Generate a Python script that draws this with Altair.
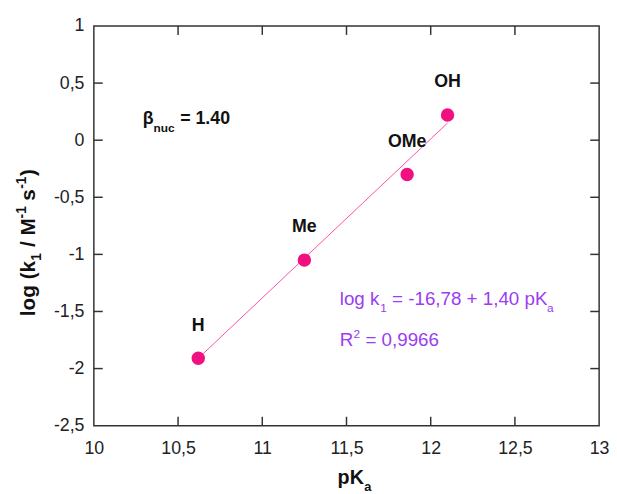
import altair as alt
import pandas as pd

# ---- data ----
substituents = ["H", "Me", "OMe", "OH"]
pka = [10.62, 11.25, 11.86, 12.10]
logk1 = [-1.91, -1.05, -0.30, 0.22]

fit_pka = [10.62, 12.10]
fit_logk = [-1.91, 0.15]

x_label_values = [10, 10.5, 11, 11.5, 12, 12.5, 13]
y_label_values = [-2.5, -2, -1.5, -1, -0.5, 0, 0.5, 1]
x_inner_ticks = [10.5, 11, 11.5, 12, 12.5]
y_inner_ticks = [-2, -1.5, -1, -0.5, 0, 0.5]

# ---- style ----
W, H = 512, 405
FONT = "Liberation Sans"
PINK = "#f0107f"
LINE = "#ff4fa8"
PURPLE = "#9b3cf0"
INK = "#111111"
FRAME = "#333333"
TICK_LEN = 9

xs = alt.Scale(domain=[10, 13], nice=False, zero=False)
ys = alt.Scale(domain=[-2.5, 1], nice=False, zero=False)
comma = "replace(toString(datum.value), '.', ',')"

xaxis = alt.Axis(values=x_label_values, labelExpr=comma, ticks=False, domain=False,
                 grid=False, title=None, labelFontSize=18, labelFont=FONT,
                 labelColor="#222222", labelPadding=14, labelFlush=False,
                 labelOverlap=False, labelBound=False)
yaxis = alt.Axis(values=y_label_values, labelExpr=comma, ticks=False, domain=False,
                 grid=False, title=None, labelFontSize=18, labelFont=FONT,
                 labelColor="#222222", labelPadding=10, labelFlush=False,
                 labelOverlap=False, labelBound=False)


def X(field=None, datum=None):
    if datum is not None:
        return alt.X(datum=datum, scale=xs, axis=xaxis)
    return alt.X(field, type="quantitative", scale=xs, axis=xaxis)


def Y(field=None, datum=None):
    if datum is not None:
        return alt.Y(datum=datum, scale=ys, axis=yaxis)
    return alt.Y(field, type="quantitative", scale=ys, axis=yaxis)


pts_df = pd.DataFrame({"pKa": pka, "logk": logk1, "label": substituents})
fit_df = pd.DataFrame({"pKa": fit_pka, "logk": fit_logk})
xt_df = pd.DataFrame({"v": x_inner_ticks})
yt_df = pd.DataFrame({"v": y_inner_ticks})
one_row = alt.Data(values=[{"a": 1}])

points = alt.Chart(pts_df).mark_point(filled=True, shape="circle", size=185,
                                       color=PINK, opacity=1).encode(
    x=X("pKa"), y=Y("logk"))

fit = alt.Chart(fit_df).mark_line(color=LINE, strokeWidth=1).encode(
    x=X("pKa"), y=Y("logk"))

labels = alt.Chart(pts_df).mark_text(dy=-33, fontSize=18, fontWeight="bold",
                                      font=FONT, color=INK, baseline="middle").encode(
    x=X("pKa"), y=Y("logk"), text="label:N")

tick_style = dict(color=FRAME, strokeWidth=1.5)
ticks_bottom = alt.Chart(xt_df).mark_rule(**tick_style).encode(
    x=X("v"), y=alt.value(H), y2=alt.value(H - TICK_LEN))
ticks_top = alt.Chart(xt_df).mark_rule(**tick_style).encode(
    x=X("v"), y=alt.value(0), y2=alt.value(TICK_LEN))
ticks_left = alt.Chart(yt_df).mark_rule(**tick_style).encode(
    y=Y("v"), x=alt.value(0), x2=alt.value(TICK_LEN))
ticks_right = alt.Chart(yt_df).mark_rule(**tick_style).encode(
    y=Y("v"), x=alt.value(W), x2=alt.value(W - TICK_LEN))


def seg(text, x, y, dx=0, dy=0, size=18, color=INK, bold=False, angle=0):
    props = dict(text=text, dx=dx, dy=dy, fontSize=size, font=FONT, color=color,
                 align="left", baseline="alphabetic",
                 fontWeight="bold" if bold else "normal")
    if angle:
        props["angle"] = angle
    return alt.Chart(one_row).mark_text(**props).encode(x=x, y=y)


# beta annotation (data coordinates)
bx, by = X(datum=10.29), Y(datum=0.14)
beta = [
    seg("β", bx, by, 0, 0, 18, INK, True),
    seg("nuc", bx, by, 11, 8, 12, INK, True),
    seg("= 1.40", bx, by, 38, 0, 18, INK, True),
]

# regression equation
ex, ey = X(datum=11.46), Y(datum=-1.44)
rx, ry = X(datum=11.46), Y(datum=-1.80)
equation = [
    seg("log k", ex, ey, 0, 0, 19, PURPLE),
    seg("1", ex, ey, 41, 7, 12, PURPLE),
    seg("= -16,78 + 1,40 pK", ex, ey, 53, 0, 19, PURPLE),
    seg("a", ex, ey, 210, 7, 12, PURPLE),
    seg("R", rx, ry, 0, 0, 19, PURPLE),
    seg("2", rx, ry, 14, -8, 12, PURPLE),
    seg("= 0,9966", rx, ry, 26, 0, 19, PURPLE),
]

# axis titles (pixel positions relative to plot area)
tx, ty = alt.value(247), alt.value(464)
xtitle = [
    seg("pK", tx, ty, 0, 0, 20, INK, True),
    seg("a", tx, ty, 27, 7, 13, INK, True),
]
vx, vy = alt.value(-60), alt.value(294)
ytitle = [
    seg("log (k", vx, vy, 0, 0, 21, INK, True, 270),
    seg("1", vx, vy, 56, 6, 14, INK, True, 270),
    seg("/ M", vx, vy, 70, 0, 21, INK, True, 270),
    seg("-1", vx, vy, 99, -9, 14, INK, True, 270),
    seg("s", vx, vy, 117, 0, 21, INK, True, 270),
    seg("-1", vx, vy, 129, -9, 14, INK, True, 270),
    seg(")", vx, vy, 142, 0, 21, INK, True, 270),
]

chart = alt.layer(
    fit, points, labels,
    ticks_bottom, ticks_top, ticks_left, ticks_right,
    *beta, *equation, *xtitle, *ytitle,
).properties(
    width=W, height=H,
    background="white",
    autosize=alt.AutoSizeParams(type="none"),
    padding={"left": 87, "top": 15, "right": 10, "bottom": 66},
).configure_view(
    stroke=FRAME, strokeWidth=1.5
)

chart.save("out.html", embed_options={"renderer": "svg", "actions": False})
